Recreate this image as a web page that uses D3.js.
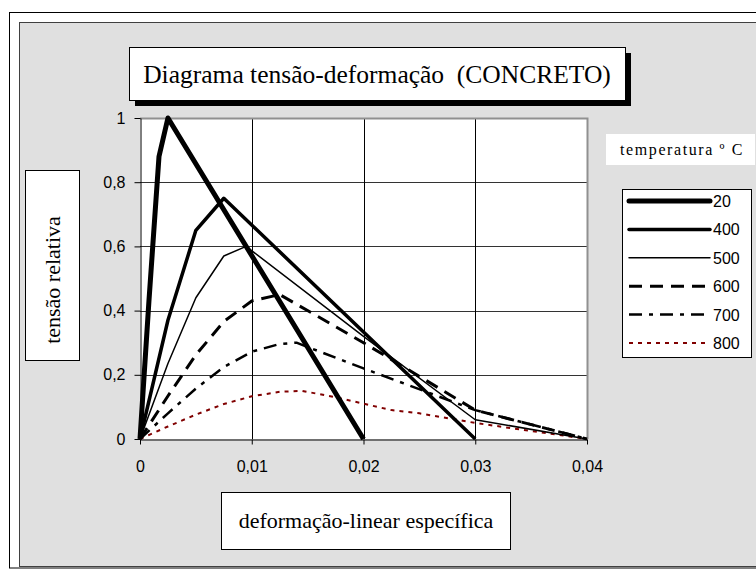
<!DOCTYPE html>
<html><head><meta charset="utf-8">
<script src="https://cdn.jsdelivr.net/npm/d3@7"></script>
<style>body{margin:0;background:#fff}svg{display:block}text{white-space:pre}</style>
</head><body><svg id="c" width="756" height="569"></svg>
<script>
// ---- data ----
const title = "Diagrama tensão-deformação  (CONCRETO)";
const xLabel = "deformação-linear específica";
const yLabel = "tensão relativa";
const legendTitle = "temperatura º C";
const xTicks = [0, 0.01, 0.02, 0.03, 0.04];
const yTicks = [0, 0.2, 0.4, 0.6, 0.8, 1];
const temps = ["20", "400", "500", "600", "700", "800"];
const strain20  = [0, 0.0008, 0.0017, 0.0025, 0.02];
const stress20  = [0, 0.43, 0.88, 1.0, 0];
const strain400 = [0, 0.0025, 0.005, 0.0075, 0.03];
const stress400 = [0, 0.37, 0.65, 0.75, 0];
const strain500 = [0, 0.0025, 0.005, 0.0075, 0.0095, 0.02, 0.03, 0.04];
const stress500 = [0, 0.235, 0.44, 0.57, 0.6, 0.32, 0.06, 0];
const strain600 = [0, 0.0025, 0.005, 0.0075, 0.01, 0.0125, 0.02, 0.03, 0.04];
const stress600 = [0, 0.134, 0.262, 0.366, 0.43, 0.45, 0.3, 0.09, 0];
const strain700 = [0, 0.0025, 0.005, 0.0075, 0.01, 0.0125, 0.014, 0.02, 0.03, 0.04];
const stress700 = [0, 0.08, 0.157, 0.224, 0.272, 0.296, 0.3, 0.22, 0.09, 0];
const strain800 = [0, 0.0025, 0.005, 0.0075, 0.01, 0.0125, 0.0145, 0.0175, 0.02, 0.0225, 0.025, 0.03, 0.04];
const stress800 = [0, 0.039, 0.076, 0.109, 0.133, 0.147, 0.15, 0.13, 0.11, 0.09, 0.08, 0.05, 0];

const strains = [strain20, strain400, strain500, strain600, strain700, strain800];
const stresses = [stress20, stress400, stress500, stress600, stress700, stress800];
const styles = [
  {w: 5,   dash: null,        color: "#000"},
  {w: 3.5, dash: null,        color: "#000"},
  {w: 1.5, dash: null,        color: "#000"},
  {w: 3,   dash: "13,8",      color: "#000"},
  {w: 2.5, dash: "13,7,4,7",  color: "#000"},
  {w: 2,   dash: "4,5",       color: "#800000"}
];

const svg = d3.select("#c");
const serif = "Liberation Serif, Times New Roman, serif";
const sans = "Liberation Sans, Arial, sans-serif";
// outer frames
svg.append("rect").attr("x", 9.5).attr("y", 12.5).attr("width", 760).attr("height", 555.5)
  .attr("fill", "#fff").attr("stroke", "#000");
svg.append("rect").attr("x", 19.5).attr("y", 22.5).attr("width", 760).attr("height", 544)
  .attr("fill", "#e0e0e0").attr("stroke", "#404040");

const L = 140, R = 587, T = 118, B = 439;
const x = d3.scaleLinear().domain([0, 0.04]).range([L, R]);
const y = d3.scaleLinear().domain([0, 1]).range([B, T]);
const fmt = d => String(+d.toFixed(2)).replace(".", ",");

// plot area
svg.append("rect").attr("x", L).attr("y", T).attr("width", R - L).attr("height", B - T).attr("fill", "#fff");
svg.append("g").selectAll("line").data(yTicks.slice(1, -1)).join("line")
  .attr("x1", L).attr("x2", R).attr("y1", d => Math.round(y(d)) + 0.5).attr("y2", d => Math.round(y(d)) + 0.5)
  .attr("stroke", "#333");
svg.append("g").selectAll("line").data(xTicks.slice(1, -1)).join("line")
  .attr("y1", T).attr("y2", B).attr("x1", d => Math.round(x(d)) + 0.5).attr("x2", d => Math.round(x(d)) + 0.5)
  .attr("stroke", "#000");
svg.append("path").attr("d", `M${L},${T + 0.5}H${R + 0.5}V${B}`).attr("fill", "none").attr("stroke", "#909090").attr("stroke-width", 2);

// axes
const xAxis = svg.append("g").attr("transform", `translate(0,${B + 0.5})`)
  .call(d3.axisBottom(x).tickValues(xTicks).tickFormat(fmt).tickSizeInner(5).tickSizeOuter(0).tickPadding(16));
const yAxis = svg.append("g").attr("transform", `translate(${L + 0.5},0)`)
  .call(d3.axisLeft(y).tickValues(yTicks).tickFormat(fmt).tickSizeInner(6).tickSizeOuter(0).tickPadding(9));
[xAxis, yAxis].forEach(a => {
  a.selectAll("text").attr("font-family", sans).attr("font-size", 16).attr("fill", "#000");
  a.selectAll("path,line").attr("stroke", "#000");
});

// series
const line = d3.line().x(d => x(d[0])).y(d => y(d[1]));
[5, 4, 3, 2, 1, 0].forEach(i => {
  const pts = strains[i].map((s, k) => [s, stresses[i][k]]);
  svg.append("path").datum(pts).attr("d", line).attr("fill", "none")
    .attr("stroke", styles[i].color).attr("stroke-width", styles[i].w)
    .attr("stroke-dasharray", styles[i].dash).attr("stroke-linejoin", "round");
});

// title box with shadow
svg.append("rect").attr("x", 135).attr("y", 53).attr("width", 496).attr("height", 53).attr("fill", "#000");
svg.append("rect").attr("x", 129.5).attr("y", 47.5).attr("width", 496).attr("height", 53).attr("fill", "#fff").attr("stroke", "#000");
svg.append("text").attr("x", 377).attr("y", 83).attr("text-anchor", "middle")
  .attr("font-family", serif).attr("font-size", 25.5).text(title);

// y label box
svg.append("rect").attr("x", 25.5).attr("y", 170.5).attr("width", 54).attr("height", 190).attr("fill", "#fff").attr("stroke", "#000");
svg.append("text").attr("transform", "translate(60,280) rotate(-90)").attr("text-anchor", "middle")
  .attr("font-family", serif).attr("font-size", 22).text(yLabel);

// x label box
svg.append("rect").attr("x", 221.5).attr("y", 492.5).attr("width", 289).attr("height", 57).attr("fill", "#fff").attr("stroke", "#000");
svg.append("text").attr("x", 366).attr("y", 528).attr("text-anchor", "middle")
  .attr("font-family", serif).attr("font-size", 22).text(xLabel);

// legend title
svg.append("rect").attr("x", 606).attr("y", 134).attr("width", 149).attr("height", 31).attr("fill", "#fff");
svg.append("text").attr("x", 682).attr("y", 155).attr("text-anchor", "middle").attr("letter-spacing", 1.6)
  .attr("font-family", serif).attr("font-size", 16).text(legendTitle);

// legend
svg.append("rect").attr("x", 622.5).attr("y", 189.5).attr("width", 129).attr("height", 168).attr("fill", "#fff").attr("stroke", "#000");
const ly = d3.scalePoint().domain(temps).range([201, 343]);
temps.forEach((t, i) => {
  svg.append("line").attr("x1", 629).attr("x2", 710).attr("y1", ly(t)).attr("y2", ly(t))
    .attr("stroke", styles[i].color).attr("stroke-width", styles[i].w).attr("stroke-dasharray", styles[i].dash)
    .attr("stroke-linecap", i < 3 ? "round" : "butt");
  svg.append("text").attr("x", 713).attr("y", ly(t) + 6).attr("font-family", sans)
    .attr("font-size", 16).text(t);
});
</script></body></html>
